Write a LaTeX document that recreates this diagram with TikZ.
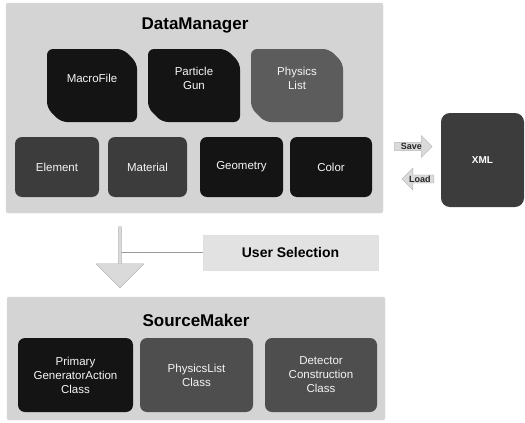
\documentclass[tikz,border=0pt]{standalone}
\usepackage{fontspec}
\setmainfont{Liberation Sans}
\usetikzlibrary{shapes.arrows,backgrounds,positioning}
\definecolor{panelgray}{RGB}{212,212,212}
\definecolor{tileblack}{RGB}{20,20,20}
\definecolor{tiledark}{RGB}{60,60,60}
\definecolor{tilegray}{RGB}{78,78,78}
\definecolor{tilemid}{RGB}{92,92,92}
\definecolor{arrowgray}{RGB}{218,218,218}
\definecolor{selgray}{RGB}{226,226,226}

\begin{document}
\begin{tikzpicture}[x=1pt, y=-1pt,
    panel/.style={draw=black!15, fill=panelgray, rounded corners=2pt, inner sep=0pt},
    paneltitle/.style={font=\fontsize{17}{19}\selectfont\bfseries, text=black},
    tile/.style={rounded corners=7pt, inner sep=0pt, text=black!4, align=center,
                 font=\fontsize{11.5}{14}\selectfont},
    tiletext/.style={text=black!4, align=center, font=\fontsize{11.5}{14}\selectfont},
    blockarrow/.style={single arrow, draw=black!30, fill=arrowgray, inner sep=0.5pt,
                       font=\fontsize{9}{9}\selectfont\bfseries, text=black!85},
    xmlbox/.style={rounded corners=9pt, fill=tiledark, text=white,
                   font=\fontsize{10}{12}\selectfont\bfseries},
    selbox/.style={draw=black!12, fill=selgray, font=\fontsize{14}{16}\selectfont\bfseries},
    selline/.style={draw=black!40, line width=1.2pt}]

  \useasboundingbox (0,0) rectangle (525,423);

  % DataManager panel
  \node[panel, minimum width=377, minimum height=210] (datamgr) at (194.5,108) {};
  \node[paneltitle] (dmtitle) at (195,25) {DataManager};

  % Top row (snipped corners)
  \foreach \nm/\xa/\xb/\col/\txt in {macrofile/47/137/tileblack/MacroFile,
                                     particlegun/148/240/tileblack/{Particle\\Gun},
                                     physicslist/251/343/tilemid/{Physics\\List}} {
    \fill[\col, rounded corners=6pt] (\xa,49) -- (\xb-14,49) -- (\xb,63) -- (\xb,122) --
      (\xa+14,122) -- (\xa,108) -- cycle;
    \node[tiletext] (\nm) at ({(\xa+\xb)/2},78) {\txt};
  }

  % Bottom row
  \foreach \nm/\xa/\xb/\col/\txt in {element/15/99/tiledark/Element, material/108/187/tiledark/Material,
                                     geometry/200/283/tileblack/Geometry, color/290/372/tileblack/Color}
    \node[tile, fill=\col, minimum width={\xb-\xa}, minimum height=60] (\nm) at ({(\xa+\xb)/2},167) {\txt};

  % XML storage
  \node[xmlbox, minimum width=83, minimum height=94] (xml) at (482.5,160) {XML};
  \node[blockarrow, minimum height=38, minimum width=19, anchor=tail] (save) at (394,146.5) {Save};
  \node[blockarrow, shape border rotate=180, minimum height=32, minimum width=19, anchor=tail] (load) at (434,179) {Load};

  % User selection
  \node[selbox, minimum width=175, minimum height=35] (usersel) at (290.5,252.5) {User Selection};
  \node[blockarrow, shape border rotate=270, minimum height=61, minimum width=48,
        single arrow head extend=11, anchor=tip] (selarrow) at (120,288) {};
  \begin{scope}[on background layer]
    \draw[selline] (usersel.west) -- (usersel.west -| selarrow.tip);
  \end{scope}

  % SourceMaker panel
  \node[panel, minimum width=378, minimum height=123] (srcmaker) at (196,358.5) {};
  \node[paneltitle] (smtitle) at (196,320) {SourceMaker};
  \foreach \nm/\xa/\xb/\col/\txt in {primgen/18/133/tileblack/{Primary\\GeneratorAction\\Class},
                                     physclass/140/253/tilegray/{PhysicsList\\Class},
                                     detconst/265/377/tilegray/{Detector\\Construction\\Class}}
    \node[tile, fill=\col, minimum width={\xb-\xa}, minimum height=74] (\nm) at ({(\xa+\xb)/2},375) {\txt};

\end{tikzpicture}
\end{document}
